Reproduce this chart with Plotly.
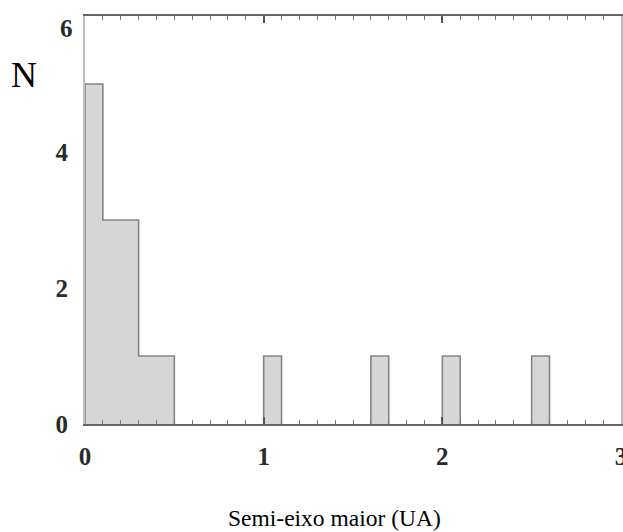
import plotly.graph_objects as go

# Histogram bins (semi-major axis, AU) and counts
bin_left = [0.0, 0.1, 0.3, 1.0, 1.6, 2.0, 2.5]
bin_right = [0.1, 0.3, 0.5, 1.1, 1.7, 2.1, 2.6]
counts = [5, 3, 1, 1, 1, 1, 1]

x_ticks = [0, 1, 2, 3]
y_ticks = [0, 2, 4]
y_top_label = 6   # drawn slightly below the frame edge, as in the reference

centers = [(l + r) / 2 for l, r in zip(bin_left, bin_right)]
widths = [r - l for l, r in zip(bin_left, bin_right)]

# step outline built from bins
ox, oy = [], []
i = 0
n = len(counts)
while i < n:
    ox.append(bin_left[i]); oy.append(0)
    j = i
    while True:
        ox += [bin_left[j], bin_right[j]]
        oy += [counts[j], counts[j]]
        if j + 1 < n and abs(bin_left[j + 1] - bin_right[j]) < 1e-9:
            j += 1
        else:
            break
    ox.append(bin_right[j]); oy.append(0)
    ox.append(None); oy.append(None)
    i = j + 1

fig = go.Figure()
fig.add_trace(go.Bar(x=centers, y=counts, width=widths,
                     marker=dict(color="#d6d6d6", line=dict(width=0)),
                     hoverinfo="skip"))
fig.add_trace(go.Scatter(x=ox, y=oy, mode="lines",
                         line=dict(color="#858585", width=1.6),
                         hoverinfo="skip", cliponaxis=False))

tickfont = dict(family="Liberation Serif", size=25, color="#2a2a2a", weight="bold")
fig.update_layout(
    width=623, height=532,
    margin=dict(l=85, r=2, t=16, b=108, autoexpand=False),
    paper_bgcolor="white", plot_bgcolor="white",
    showlegend=False,
    bargap=0,
    xaxis=dict(range=[0, 3], tickvals=x_ticks, ticks="inside", ticklen=7,
               tickcolor="#555555", tickwidth=1.5,
               minor=dict(dtick=0.1, ticks="inside", ticklen=4,
                          tickcolor="#777777", tickwidth=1),
               showline=True, linecolor="#666666", linewidth=2,
               mirror="allticks", showgrid=False, zeroline=False,
               automargin=False, ticklabeloverflow="allow",
               tickfont=tickfont, ticklabelstandoff=9),
    yaxis=dict(range=[0, 6], tickvals=y_ticks, ticks="",
               showline=True, linecolor="#bdbdbd", linewidth=2,
               mirror=True, showgrid=False, zeroline=False,
               automargin=False, ticklabeloverflow="allow",
               tickfont=tickfont, ticklabelstandoff=10),
)
fig.add_annotation(text=str(y_top_label), x=0, y=y_top_label - 0.18,
                   xref="x", yref="y", showarrow=False,
                   xanchor="right", yanchor="middle", xshift=-10,
                   font=tickfont)

pw = 623 - 85 - 2
ph = 532 - 16 - 108
fig.add_annotation(text="N", x=(24 - 85) / pw, y=(532 - 108 - 75) / ph,
                   xref="paper", yref="paper", showarrow=False,
                   xanchor="center", yanchor="middle",
                   font=dict(family="Liberation Serif", size=36, color="black"))
fig.add_annotation(text="Semi-eixo maior (UA)", x=(334 - 85) / pw,
                   y=(532 - 108 - 518) / ph, xref="paper", yref="paper",
                   showarrow=False, xanchor="center", yanchor="middle",
                   font=dict(family="Liberation Serif", size=23.5, color="black"))

fig.write_html(
    "out.html",
    config={"displayModeBar": False},
    post_script="document.body.style.margin='0';"
                "document.documentElement.style.overflow='hidden';",
)
